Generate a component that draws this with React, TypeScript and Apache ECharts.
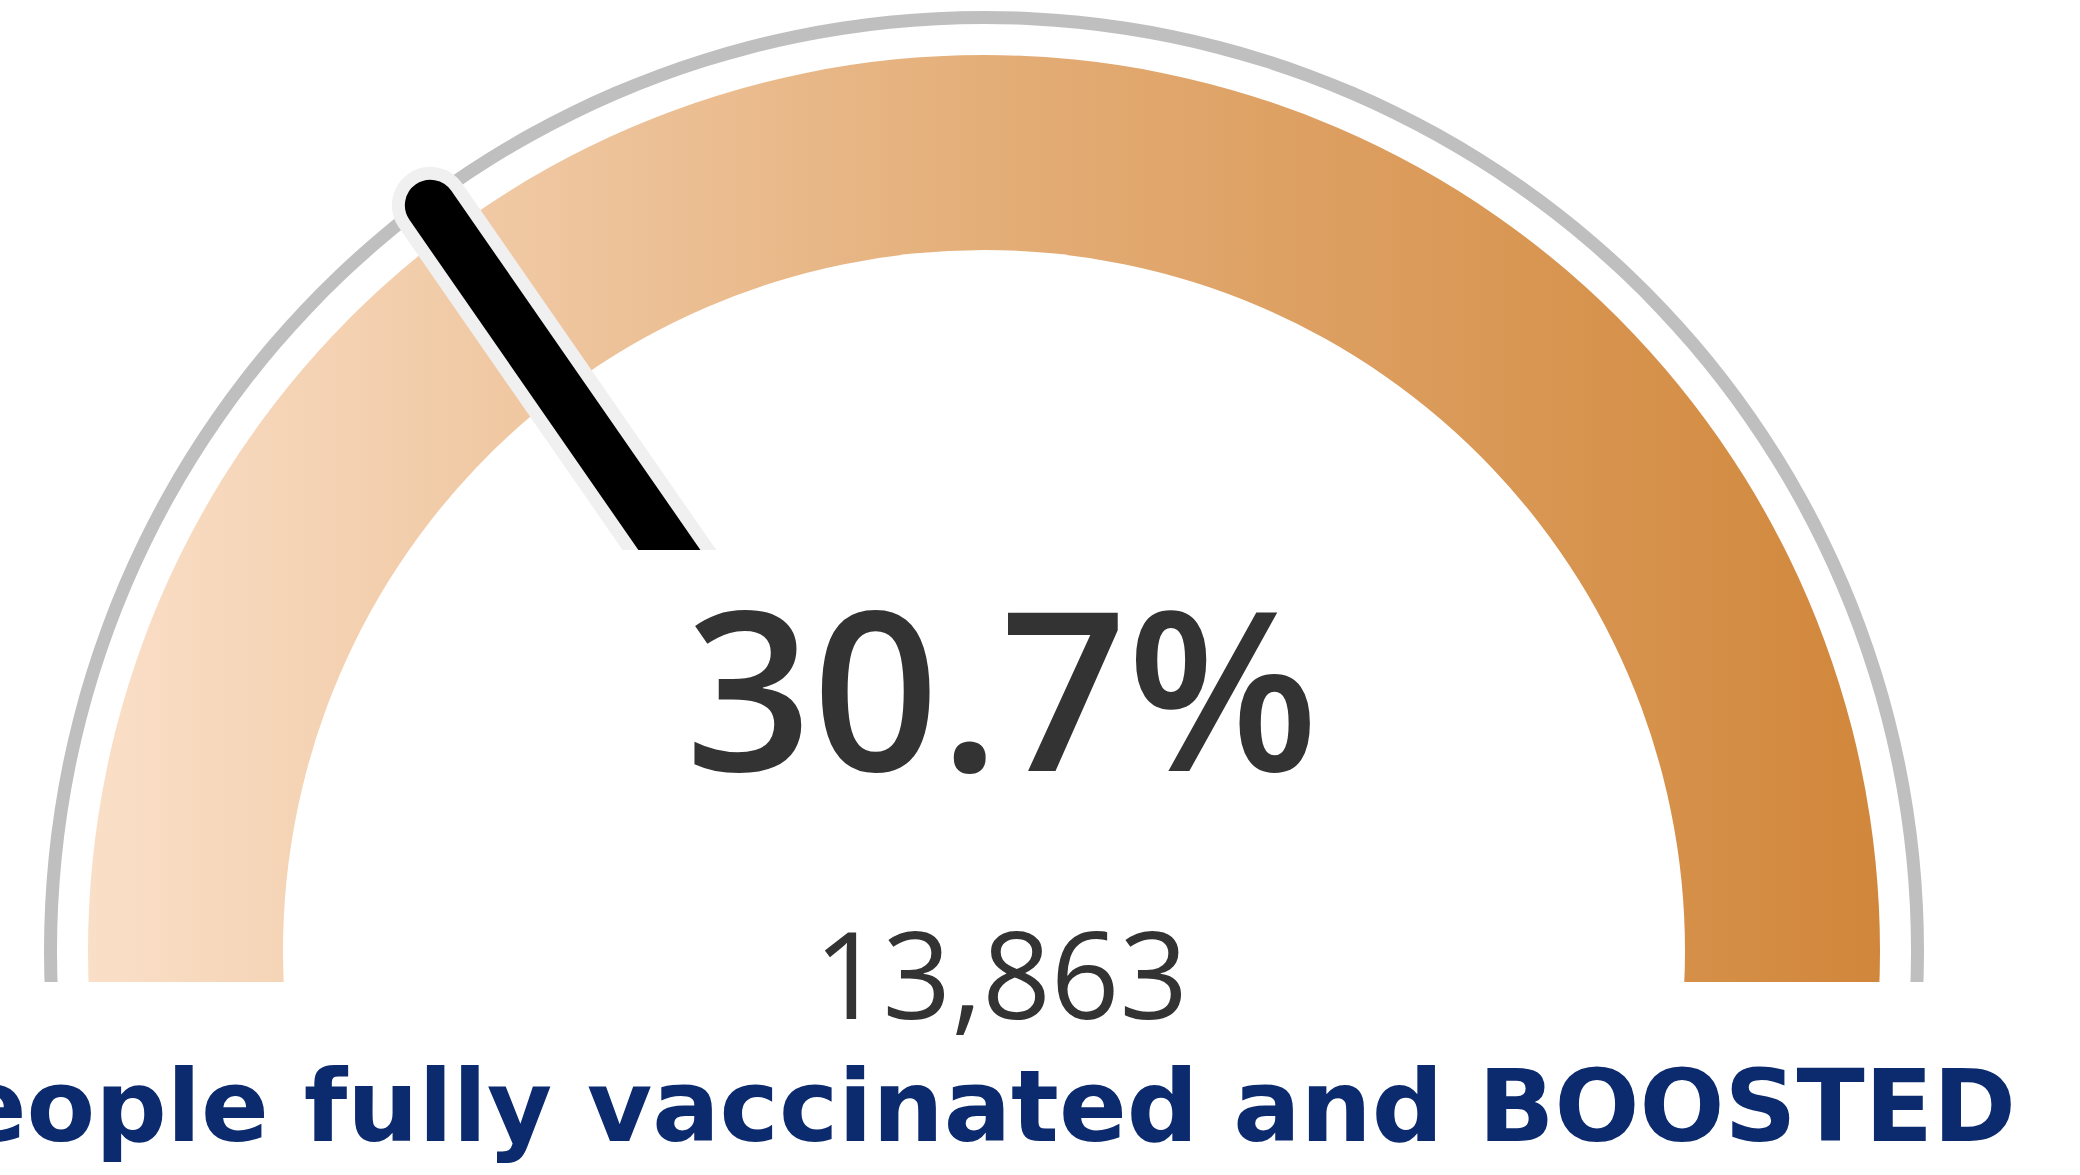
import React, { useEffect, useRef } from 'react';
import * as echarts from 'echarts';

// ---- data ----
const gaugeTitle = ['People fully vaccinated and BOOSTED'];
const boostedPercent = [30.7];
const boostedPeople = [13863];
const axisRange = [0, 100];
const bandColors = ['#FADFC8', '#E4AE78', '#D1873B'];

export default function App() {
  const ref = useRef<HTMLDivElement>(null);

  useEffect(() => {
    const chart = echarts.init(ref.current as HTMLDivElement, null, { renderer: 'svg' });
    const cx = 984;
    const cy = 951;
    const hidden = {
      center: [cx, cy],
      min: axisRange[0],
      max: axisRange[1],
      splitLine: { show: false },
      axisTick: { show: false },
      axisLabel: { show: false },
      pointer: { show: false },
      anchor: { show: false },
      title: { show: false },
      detail: { show: false },
    };

    chart.setOption({
      animation: false,
      backgroundColor: '#ffffff',
      title: {
        text: gaugeTitle[0],
        right: 64,
        top: 1056,
        padding: 0,
        textStyle: {
          fontFamily: 'DejaVu Sans',
          fontWeight: 'bold',
          fontSize: 100,
          color: '#0C2A6E',
        },
      },
      graphic: [
        // mask hiding the lower part of the needle behind the value text
        { type: 'rect', z: 5, shape: { x: 470, y: 550, width: 1040, height: 450 }, style: { fill: '#ffffff' } },
        // flat cut of the arc ends
        { type: 'rect', z: 5, shape: { x: 0, y: 982, width: 420, height: 70 }, style: { fill: '#ffffff' } },
        { type: 'rect', z: 5, shape: { x: 1560, y: 982, width: 520, height: 70 }, style: { fill: '#ffffff' } },
      ],
      series: [
        {
          ...hidden,
          type: 'gauge',
          z: 1,
          startAngle: 183,
          endAngle: -3,
          radius: 940,
          axisLine: { lineStyle: { width: 13, color: [[1, '#BFBFBF']] } },
          data: [{ value: boostedPercent[0] }],
        },
        {
          ...hidden,
          type: 'gauge',
          z: 2,
          startAngle: 183,
          endAngle: -3,
          radius: 896,
          axisLine: {
            lineStyle: {
              width: 195,
              color: [
                [
                  1,
                  new echarts.graphic.LinearGradient(0, 0, 1, 0, [
                    { offset: 0, color: bandColors[0] },
                    { offset: 0.5, color: bandColors[1] },
                    { offset: 1, color: bandColors[2] },
                  ]),
                ],
              ],
            },
          },
          data: [{ value: boostedPercent[0] }],
        },
        {
          ...hidden,
          type: 'gauge',
          z: 3,
          startAngle: 180,
          endAngle: 0,
          radius: 896,
          axisLine: { show: false },
          pointer: {
            show: true,
            icon: 'path://M0,0.5A0.5,0.5,0,0,1,1,0.5L1,15L0,15Z',
            width: 64,
            length: 960,
            offsetCenter: [-30, 0],
            itemStyle: { color: '#000000', borderColor: '#F0F0F0', borderWidth: 13 },
          },
          data: [{ value: boostedPercent[0] }],
        },
        {
          ...hidden,
          type: 'gauge',
          z: 10,
          startAngle: 180,
          endAngle: 0,
          radius: 896,
          axisLine: { show: false },
          title: {
            show: true,
            offsetCenter: [17, 21],
            color: '#333333',
            fontFamily: 'Open Sans',
            fontWeight: 400,
            fontSize: 120,
          },
          detail: {
            show: true,
            offsetCenter: [18, -266],
            color: '#333333',
            fontFamily: 'Open Sans',
            fontWeight: 600,
            fontSize: 222,
            formatter: (v: number) => v.toFixed(1) + '%',
          },
          data: [{ value: boostedPercent[0], name: boostedPeople[0].toLocaleString('en-US') }],
        },
      ],
    });

    return () => chart.dispose();
  }, []);

  return (
    <div
      ref={ref}
      style={{ position: 'absolute', left: 0, top: 0, width: 2080, height: 1175 }}
    />
  );
}
